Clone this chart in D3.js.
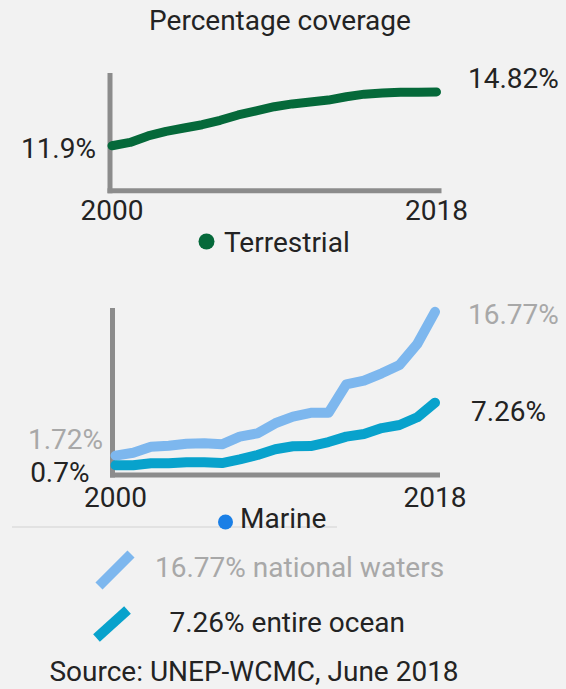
<!DOCTYPE html>
<html>
<head>
<meta charset="utf-8">
<script src="https://cdn.jsdelivr.net/npm/d3@7"></script>
<style>
  html, body { margin: 0; padding: 0; background: #f2f2f2; }
  svg { display: block; font-family: Roboto, "Noto Sans", sans-serif; }
</style>
</head>
<body>
<svg id="chart" width="566" height="689"></svg>
<script>
// Protected-area coverage (% of area), 2000–2018
const years = [2000, 2001, 2002, 2003, 2004, 2005, 2006, 2007, 2008, 2009,
               2010, 2011, 2012, 2013, 2014, 2015, 2016, 2017, 2018];
const terrestrial = [11.9, 12.08, 12.43, 12.68, 12.86, 13.04, 13.28, 13.57, 13.79, 14.02,
                     14.17, 14.27, 14.38, 14.56, 14.70, 14.76, 14.80, 14.81, 14.82];
const nationalWaters = [1.72, 2.02, 2.65, 2.75, 2.96, 3.0, 2.9, 3.7, 4.05, 5.1,
                        5.8, 6.2, 6.2, 9.18, 9.56, 10.33, 11.2, 13.4, 16.77];
const entireOcean = [0.7, 0.7, 0.91, 0.91, 1.02, 1.02, 0.94, 1.33, 1.78, 2.38,
                     2.69, 2.72, 3.14, 3.7, 3.98, 4.6, 4.92, 5.73, 7.26];
const axisYears = [2000, 2018];
const legendLabels = ["national waters", "entire ocean"];

const COL = {
  green: "#05693a", light: "#7db7ee", teal: "#08a2cc", marineDot: "#1a7fe6",
  axis: "#8c8c8c", text: "#232323", muted: "#a8a8a8", rule: "#d2d2d2"
};
const FS = 28;
const fmt = v => `${v}%`;

const svg = d3.select("#chart");

svg.append("text")
  .attr("x", 280).attr("y", 29.5)
  .attr("text-anchor", "middle")
  .attr("font-size", FS).attr("fill", COL.text)
  .text("Percentage coverage");

function drawAxes(g, x, y, vx, hy) {
  const y1 = y.range()[1];
  g.append("line")
    .attr("x1", vx).attr("x2", vx)
    .attr("y1", y1).attr("y2", hy + 2.5)
    .attr("stroke", COL.axis).attr("stroke-width", 5);
  g.append("line")
    .attr("x1", vx - 2.5).attr("x2", x.range()[1] + 5)
    .attr("y1", hy).attr("y2", hy)
    .attr("stroke", COL.axis).attr("stroke-width", 5);
}

function drawSeries(g, x, y, values, color, width) {
  const line = d3.line()
    .x((d, i) => x(years[i]))
    .y(d => y(d));
  g.append("path")
    .datum(values)
    .attr("d", line)
    .attr("fill", "none")
    .attr("stroke", color)
    .attr("stroke-width", width)
    .attr("stroke-linecap", "round")
    .attr("stroke-linejoin", "round");
}

function drawYears(g, x, baseline) {
  g.selectAll("text.year")
    .data(axisYears)
    .join("text")
    .attr("class", "year")
    .attr("x", d => x(d))
    .attr("y", baseline)
    .attr("text-anchor", "middle")
    .attr("font-size", FS).attr("fill", COL.text)
    .text(d => d);
}

// ---- Terrestrial panel ----
const terrPanel = svg.append("g");
const xT = d3.scaleLinear().domain([2000, 2018]).range([112, 436.5]);
const yT = d3.scaleLinear().domain([9.45, 15.85]).range([190.8, 73]);
drawAxes(terrPanel, xT, yT, 110, 190.8);
drawSeries(terrPanel, xT, yT, terrestrial, COL.green, 9);
drawYears(terrPanel, xT, 220);

terrPanel.append("text")
  .attr("x", 96).attr("y", yT(terrestrial[0]) + 12.5)
  .attr("text-anchor", "end")
  .attr("font-size", FS).attr("fill", COL.text)
  .text(fmt(terrestrial[0]));
terrPanel.append("text")
  .attr("x", 468).attr("y", yT(terrestrial[terrestrial.length - 1]) - 3.5)
  .attr("font-size", FS).attr("fill", COL.text)
  .text(fmt(terrestrial[terrestrial.length - 1]));

terrPanel.append("circle")
  .attr("cx", 206.5).attr("cy", 241.5).attr("r", 8)
  .attr("fill", COL.green);
terrPanel.append("text")
  .attr("x", 224).attr("y", 251.5)
  .attr("font-size", FS).attr("fill", COL.text)
  .text("Terrestrial");

// ---- Marine panel ----
const marPanel = svg.append("g");
const xM = d3.scaleLinear().domain([2000, 2018]).range([115.5, 435]);
const yM = d3.scaleLinear().domain([0, 17.17]).range([472, 308]);
drawAxes(marPanel, xM, yM, 112.5, 475);
drawSeries(marPanel, xM, yM, nationalWaters, COL.light, 10);
drawSeries(marPanel, xM, yM, entireOcean, COL.teal, 10);
drawYears(marPanel, xM, 506.5);

marPanel.append("text")
  .attr("x", 103).attr("y", 448.5)
  .attr("text-anchor", "end")
  .attr("font-size", FS).attr("fill", COL.muted)
  .text(fmt(nationalWaters[0]));
marPanel.append("text")
  .attr("x", 89.5).attr("y", 481.5)
  .attr("text-anchor", "end")
  .attr("font-size", FS).attr("fill", COL.text)
  .text(fmt(entireOcean[0]));
marPanel.append("text")
  .attr("x", 468).attr("y", yM(nationalWaters[nationalWaters.length - 1]) + 12)
  .attr("font-size", FS).attr("fill", COL.muted)
  .text(fmt(nationalWaters[nationalWaters.length - 1]));
marPanel.append("text")
  .attr("x", 471).attr("y", yM(entireOcean[entireOcean.length - 1]) + 18)
  .attr("font-size", FS).attr("fill", COL.text)
  .text(fmt(entireOcean[entireOcean.length - 1]));

// separator rule under the marine panel
svg.append("line")
  .attr("x1", 12).attr("x2", 337)
  .attr("y1", 527).attr("y2", 527)
  .attr("stroke", COL.rule).attr("stroke-width", 1);

svg.append("circle")
  .attr("cx", 225.5).attr("cy", 522).attr("r", 7.5)
  .attr("fill", COL.marineDot);
svg.append("text")
  .attr("x", 240).attr("y", 528)
  .attr("font-size", FS).attr("fill", COL.text)
  .text("Marine");

// ---- legend ----
const legend = [
  { value: nationalWaters[nationalWaters.length - 1], label: legendLabels[0], color: COL.light,
    textColor: COL.muted, x1: 99, y1: 586, x2: 131, y2: 554, tx: 155, ty: 577 },
  { value: entireOcean[entireOcean.length - 1], label: legendLabels[1], color: COL.teal,
    textColor: COL.text, x1: 96.5, y1: 638, x2: 127.5, y2: 610, tx: 169.5, ty: 632 }
];
const lg = svg.append("g").selectAll("g").data(legend).join("g");
lg.append("line")
  .attr("x1", d => d.x1).attr("y1", d => d.y1)
  .attr("x2", d => d.x2).attr("y2", d => d.y2)
  .attr("stroke", d => d.color).attr("stroke-width", 10);
lg.append("text")
  .attr("x", d => d.tx).attr("y", d => d.ty)
  .attr("font-size", FS).attr("fill", d => d.textColor)
  .text(d => `${fmt(d.value)} ${d.label}`);

svg.append("text")
  .attr("x", 254).attr("y", 681)
  .attr("text-anchor", "middle")
  .attr("font-size", FS).attr("fill", COL.text)
  .text("Source: UNEP-WCMC, June 2018");
</script>
</body>
</html>
